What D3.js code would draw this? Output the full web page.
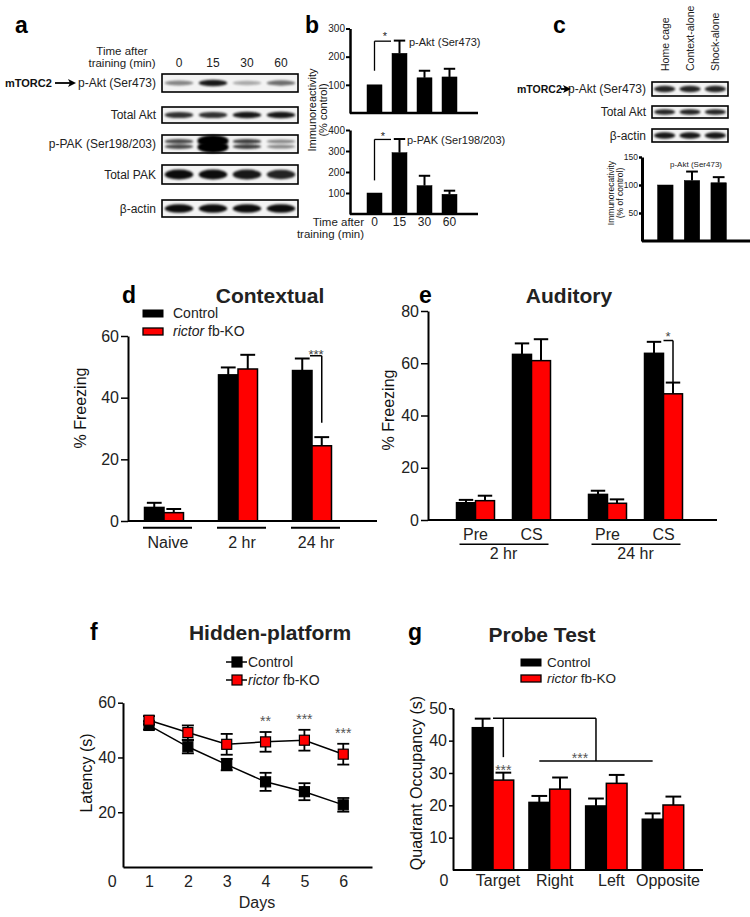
<!DOCTYPE html>
<html>
<head>
<meta charset="utf-8">
<script src="https://cdn.jsdelivr.net/npm/d3@7"></script>
<style>
  body { margin: 0; background: #fff; }
  svg { font-family: "Liberation Sans", Arial, sans-serif; }
</style>
</head>
<body>
<svg id="fig" width="750" height="917"></svg>
<script>
// ---- panel a : western blot band strength per lane (0..1)
const blotTimes = ["0", "15", "30", "60"];
const pAktBands = [0.45, 0.9, 0.3, 0.55];
const totalAktBands = [0.8, 0.8, 0.9, 0.9];
const pPakBands = [0.7, 1.0, 0.75, 0.45];
const totalPakBands = [0.95, 0.95, 0.9, 0.85];
const actinBandsA = [0.95, 0.95, 0.95, 0.95];

// ---- panel b
const bTimes = ["0", "15", "30", "60"];
const bAktMean = [100, 212, 125, 128];
const bAktErr = [0, 45, 25, 29];
const bPakMean = [100, 292, 135, 94];
const bPakErr = [0, 65, 47, 17];

// ---- panel c
const cGroups = ["Home cage", "Context-alone", "Shock-alone"];
const cAktBands = [0.85, 0.85, 0.85];
const cTotalAktBands = [0.85, 0.85, 0.85];
const cActinBands = [0.9, 0.9, 0.9];
const cMean = [100, 108, 104];
const cErr = [0, 16, 10];

// ---- panel d
const dGroups = ["Naive", "2 hr", "24 hr"];
const dControl = [4.4, 47.4, 48.8];
const dControlErr = [1.5, 2.4, 3.9];
const dKO = [2.7, 49.3, 24.4];
const dKOErr = [1.2, 4.6, 2.8];

// ---- panel e
const eTimes = ["2 hr", "24 hr"];
const ePhases = ["Pre", "CS"];
const eControl = [6.6, 63.4, 9.8, 63.8];
const eControlErr = [1.1, 4.2, 1.4, 4.4];
const eKO = [7.4, 61.0, 6.4, 48.3];
const eKOErr = [1.9, 8.2, 1.5, 4.3];

// ---- panel f
const fDays = [1, 2, 3, 4, 5, 6];
const fControl = [51.7, 43.9, 37.4, 31.1, 27.5, 22.7];
const fControlErr = [1.5, 2.4, 2.1, 3.3, 3.1, 2.5];
const fKO = [53.6, 49.1, 44.8, 45.7, 46.3, 41.2];
const fKOErr = [1.5, 2.6, 3.8, 3.6, 3.8, 3.8];
const fStars = ["", "", "", "**", "***", "***"];

// ---- panel g
const gQuads = ["Target", "Right", "Left", "Opposite"];
const gControl = [44.0, 20.9, 19.8, 15.7];
const gControlErr = [2.8, 2.0, 2.3, 1.8];
const gKO = [27.8, 25.0, 26.8, 20.1];
const gKOErr = [2.3, 3.6, 2.6, 2.6];

const RED = "#ff0000";
const svg = d3.select("#fig");

svg.append("defs").append("filter")
  .attr("id", "blur").attr("x", "-50%").attr("y", "-150%")
  .attr("width", "200%").attr("height", "400%")
  .append("feGaussianBlur").attr("stdDeviation", 1.3);

function txt(x, y, s, size, opt) {
  opt = opt || {};
  return svg.append("text")
    .attr("x", x).attr("y", y)
    .attr("font-size", size)
    .attr("font-weight", opt.bold ? "bold" : null)
    .attr("text-anchor", opt.anchor || "start")
    .attr("fill", opt.fill || "#111")
    .text(s);
}

function vtxt(x, y, s, size, anchor) {
  return svg.append("text")
    .attr("transform", "translate(" + x + "," + y + ") rotate(-90)")
    .attr("font-size", size)
    .attr("text-anchor", anchor || "middle")
    .attr("fill", "#111")
    .text(s);
}

function hline(x1, x2, y, w) {
  svg.append("line").attr("x1", x1).attr("x2", x2).attr("y1", y).attr("y2", y)
    .attr("stroke", "#000").attr("stroke-width", w || 2);
}
function vline(x, y1, y2, w) {
  svg.append("line").attr("x1", x).attr("x2", x).attr("y1", y1).attr("y2", y2)
    .attr("stroke", "#000").attr("stroke-width", w || 2);
}

function yAxis(x, scale, ticks, size, tick, font, pad) {
  const g = svg.append("g")
    .attr("transform", "translate(" + x + ",0)")
    .call(d3.axisLeft(scale).tickValues(ticks).tickSize(tick)
      .tickPadding(pad == null ? 2 : pad).tickSizeOuter(0));
  g.select(".domain").attr("stroke-width", size);
  g.selectAll(".tick line").attr("stroke-width", Math.max(1.2, size - 0.5));
  g.selectAll("text").attr("font-size", font).attr("fill", "#222")
    .attr("font-family", "Liberation Sans, Arial, sans-serif");
  return g;
}

// bar with upper error bar
function bar(x, w, v, e, fill, y, sw) {
  svg.append("rect").attr("x", x).attr("y", y(v)).attr("width", w)
    .attr("height", y(0) - y(v)).attr("fill", fill)
    .attr("stroke", "#000").attr("stroke-width", sw || 1.5);
  if (e > 0) {
    const cx = x + w / 2;
    vline(cx, y(v), y(v + e), 2);
    hline(cx - w * 0.38, cx + w * 0.38, y(v + e), 2);
  }
}

function blot(lanes, rows, labelX) {
  rows.forEach(r => {
    svg.append("rect").attr("x", lanes.range()[0]).attr("y", r.y)
      .attr("width", lanes.range()[1] - lanes.range()[0]).attr("height", r.h)
      .attr("fill", "#f3f3f3").attr("stroke", "#000").attr("stroke-width", 1.6);
    const cy = r.y + r.h / 2;
    r.bands.forEach((b, i) => {
      const cx = lanes(lanes.domain()[i]) + lanes.bandwidth() / 2;
      const strong = r.doublet && b > 0.95;
      const offs = r.doublet ? [-2.6, 2.6] : [0];
      offs.forEach(o => {
        svg.append("ellipse")
          .attr("cx", cx).attr("cy", cy + o * (strong ? 1.2 : 1))
          .attr("rx", lanes.bandwidth() * (strong ? 0.46 : 0.42))
          .attr("ry", r.ry * (0.55 + b * 0.6) * (strong ? 2.1 : 1))
          .attr("fill", "#000").attr("opacity", b)
          .attr("filter", "url(#blur)");
      });
    });
    txt(labelX, cy + 4.3, r.name, 12, { anchor: "end", fill: "#222" });
  });
}

function arrow(x1, x2, y) {
  hline(x1, x2 - 5, y, 1.8);
  svg.append("path")
    .attr("d", "M" + x2 + "," + y + " L" + (x2 - 8) + "," + (y - 4) + " L" + (x2 - 6) + "," + y + " L" + (x2 - 8) + "," + (y + 4) + "Z")
    .attr("fill", "#000");
}

/* ================= panel a ================= */
txt(15, 33, "a", 23, { bold: true, fill: "#000" });
const aLanes = d3.scaleBand().domain(blotTimes).range([162, 298]);
txt(122, 55, "Time after", 11.5, { anchor: "middle", fill: "#222" });
txt(122, 67, "training (min)", 11.5, { anchor: "middle", fill: "#222" });
blotTimes.forEach(t => txt(aLanes(t) + aLanes.bandwidth() / 2, 67, t, 12, { anchor: "middle", fill: "#222" }));
blot(aLanes, [
  { name: "p-Akt (Ser473)", y: 74, h: 18, bands: pAktBands, ry: 3 },
  { name: "Total Akt", y: 107, h: 16, bands: totalAktBands, ry: 3 },
  { name: "p-PAK (Ser198/203)", y: 135, h: 18, bands: pPakBands, ry: 2.4, doublet: true },
  { name: "Total PAK", y: 165, h: 19, bands: totalPakBands, ry: 4.5 },
  { name: "β-actin", y: 200, h: 17, bands: actinBandsA, ry: 3.8 }
], 156);
txt(5, 87, "mTORC2", 11, { bold: true, fill: "#111" });
arrow(55, 76, 83);

/* ================= panel b ================= */
txt(305, 33, "b", 23, { bold: true, fill: "#000" });
const bx = d3.scaleBand().domain(bTimes).range([362, 462]).paddingInner(0.4).paddingOuter(0.2);
const byTop = d3.scaleLinear().domain([0, 300]).range([113, 28.5]);
const byBot = d3.scaleLinear().domain([0, 400]).range([214, 130]);
bTimes.forEach((t, i) => {
  bar(bx(t), bx.bandwidth(), bAktMean[i], bAktErr[i], "#000", byTop, 0.5);
  bar(bx(t), bx.bandwidth(), bPakMean[i], bPakErr[i], "#000", byBot, 0.5);
});
yAxis(350, byTop, [100, 200, 300], 2.5, 4, 10, 1);
yAxis(350, byBot, [100, 200, 300, 400], 2.5, 4, 10, 1);
hline(350, 478, byTop(0), 2.5);
hline(350, 478, byBot(0), 2.5);
// significance
{
  const x0 = bx("0") + bx.bandwidth() / 2;
  vline(x0, byTop(150), byTop(255), 1.3);
  hline(x0, bx("15") - 1, byTop(255), 1.3);
  txt(385, 40, "*", 11, { anchor: "middle", fill: "#222" });
  txt(409, 46, "p-Akt (Ser473)", 11, { fill: "#222" });
  vline(x0, byBot(160), byBot(355), 1.3);
  hline(x0, bx("15") - 1, byBot(355), 1.3);
  txt(383, 140, "*", 11, { anchor: "middle", fill: "#222" });
  txt(407, 144, "p-PAK (Ser198/203)", 11, { fill: "#222" });
}
bTimes.forEach(t => txt(bx(t) + bx.bandwidth() / 2, 226, t, 12, { anchor: "middle", fill: "#222" }));
txt(364, 226, "Time after", 11.5, { anchor: "end", fill: "#222" });
txt(364, 237.5, "training (min)", 11.5, { anchor: "end", fill: "#222" });
vtxt(316, 110, "Immunoreactivity", 11);
vtxt(327, 110, "(% control)", 11);

/* ================= panel c ================= */
txt(553, 33, "c", 23, { bold: true, fill: "#000" });
const cLanes = d3.scaleBand().domain(cGroups).range([652, 728]);
cGroups.forEach(gname => {
  svg.append("text")
    .attr("transform", "translate(" + (cLanes(gname) + cLanes.bandwidth() / 2 + 4) + ",71) rotate(-90)")
    .attr("font-size", 10.5).attr("fill", "#222").text(gname);
});
blot(cLanes, [
  { name: "p-Akt (Ser473)", y: 82, h: 14, bands: cAktBands, ry: 3 },
  { name: "Total Akt", y: 106, h: 12, bands: cTotalAktBands, ry: 2.6 },
  { name: "β-actin", y: 129, h: 13, bands: cActinBands, ry: 3 }
], 646);
txt(517, 93, "mTORC2", 10.5, { bold: true, fill: "#111" });
arrow(561, 571, 89);
const cx = d3.scaleBand().domain(cGroups).range([652, 732]).paddingInner(0.42).paddingOuter(0.21);
const cy = d3.scaleLinear().domain([0, 150]).range([241, 157]);
cGroups.forEach((gname, i) => bar(cx(gname), cx.bandwidth(), cMean[i], cErr[i], "#000", cy, 0.5));
yAxis(642, cy, [50, 100, 150], 3, 3, 8.5, 1);
hline(642, 750, cy(0), 3);
txt(670, 167, "p-Akt (Ser473)", 8, { fill: "#222" });
vtxt(614, 193, "Immunorecativity", 8.5);
vtxt(623, 193, "(% of control)", 8.5);

/* ================= legends ================= */
function barLegend(x, y1, y2, tx, fs) {
  svg.append("rect").attr("x", x).attr("y", y1).attr("width", 20).attr("height", 7)
    .attr("fill", "#000").attr("stroke", "#000");
  svg.append("rect").attr("x", x).attr("y", y2).attr("width", 20).attr("height", 7)
    .attr("fill", RED).attr("stroke", "#000").attr("stroke-width", 1.3);
  txt(tx, y1 + 8, "Control", fs, { fill: "#222" });
  const t = txt(tx, y2 + 8, "", fs, { fill: "#222" });
  t.append("tspan").attr("font-style", "italic").text("rictor");
  t.append("tspan").text(" fb-KO");
}

/* ================= panel d ================= */
txt(122, 303, "d", 23, { bold: true, fill: "#000" });
txt(270, 303, "Contextual", 21, { bold: true, anchor: "middle", fill: "#222" });
barLegend(143, 310, 328, 173, 14);
const dx = d3.scalePoint().domain(dGroups).range([164, 312]);
const dy = d3.scaleLinear().domain([0, 60]).range([521, 336]);
const dbw = 19.5;
dGroups.forEach((gname, i) => {
  bar(dx(gname) - dbw, dbw, dControl[i], dControlErr[i], "#000", dy);
  bar(dx(gname), dbw, dKO[i], dKOErr[i], RED, dy);
  hline(dx(gname) - 21, dx(gname) + 28, 527.7, 2);
  txt(dx(gname) + 4, 548, gname, 16, { anchor: "middle", fill: "#222" });
});
yAxis(128, dy, [0, 20, 40, 60], 2, 7, 16);
hline(128, 377, dy(0), 2);
{
  const xr = dx("24 hr") + dbw / 2;
  hline(dx("24 hr") - 2, xr, dy(53.6), 1.5);
  vline(xr, dy(53.6), dy(31.9), 1.5);
  txt(316, 359, "***", 13, { anchor: "middle", fill: "#444" });
}
vtxt(86, 408, "% Freezing", 16);

/* ================= panel e ================= */
txt(419, 303, "e", 23, { bold: true, fill: "#000" });
txt(569, 303, "Auditory", 21, { bold: true, anchor: "middle", fill: "#222" });
const eOuter = d3.scalePoint().domain(eTimes).range([503.5, 635.5]);
const eInner = d3.scalePoint().domain(ePhases).range([-28, 28]);
const ey = d3.scaleLinear().domain([0, 80]).range([520, 311]);
const ebw = 19;
eTimes.forEach((t, ti) => {
  ePhases.forEach((p, pi) => {
    const k = ti * 2 + pi;
    const c = eOuter(t) + eInner(p);
    bar(c - ebw, ebw, eControl[k], eControlErr[k], "#000", ey);
    bar(c, ebw, eKO[k], eKOErr[k], RED, ey);
    txt(c, 540, p, 16, { anchor: "middle", fill: "#222" });
  });
  hline(eOuter(t) - 44, eOuter(t) + 45, 544.3, 1.5);
  txt(eOuter(t), 559, t, 16, { anchor: "middle", fill: "#222" });
});
yAxis(428, ey, [0, 20, 40, 60, 80], 2, 7, 16);
hline(428, 717, ey(0), 2);
{
  const c = eOuter("24 hr") + eInner("CS");
  hline(c, c + ebw / 2, ey(68.7), 1.5);
  vline(c + ebw / 2, ey(68.7), ey(52.6), 1.5);
  txt(668, 341, "*", 13, { anchor: "middle", fill: "#444" });
}
vtxt(394, 410, "% Freezing", 16);

/* ================= panel f ================= */
txt(90, 640, "f", 23, { bold: true, fill: "#000" });
txt(270, 640, "Hidden-platform", 21, { bold: true, anchor: "middle", fill: "#222" });
const fx = d3.scaleLinear().domain([0.33, 6.74]).range([123, 372]);
const fy = d3.scaleLinear().domain([0, 60]).range([867, 702.7]);
function series(vals, errs, fill) {
  const line = d3.line().x((d, i) => fx(fDays[i])).y(d => fy(d));
  svg.append("path").attr("d", line(vals)).attr("fill", "none")
    .attr("stroke", "#000").attr("stroke-width", 1.5);
  vals.forEach((v, i) => {
    const x = fx(fDays[i]);
    vline(x, fy(v - errs[i]), fy(v + errs[i]), 1.8);
    hline(x - 6, x + 6, fy(v + errs[i]), 1.8);
    hline(x - 6, x + 6, fy(v - errs[i]), 1.8);
  });
  vals.forEach((v, i) => {
    svg.append("rect").attr("x", fx(fDays[i]) - 5).attr("y", fy(v) - 5)
      .attr("width", 10).attr("height", 10).attr("fill", fill)
      .attr("stroke", "#000").attr("stroke-width", 1.2);
  });
}
series(fControl, fControlErr, "#000");
series(fKO, fKOErr, RED);
fStars.forEach((s, i) => {
  if (!s) return;
  const top = Math.max(fKO[i] + fKOErr[i], fControl[i] + fControlErr[i]);
  txt(fx(fDays[i]), fy(top) - 6, s, 14, { anchor: "middle", fill: "#555" });
});
yAxis(123, fy, [20, 40, 60], 2, 5, 16);
const fxAxis = svg.append("g").attr("transform", "translate(0," + fy(0) + ")")
  .call(d3.axisBottom(fx).tickValues(fDays).tickFormat(d3.format("d")).tickSize(0).tickPadding(9));
fxAxis.select(".domain").attr("stroke-width", 2);
fxAxis.selectAll("text").attr("font-size", 16).attr("fill", "#222")
  .attr("font-family", "Liberation Sans, Arial, sans-serif");
txt(fx(0) + 2, 887, "0", 16, { anchor: "middle", fill: "#222" });
txt(257, 908, "Days", 16, { anchor: "middle", fill: "#222" });
vtxt(92, 773, "Latency (s)", 16);
// legend
[["Control", "#000", 662], ["rictor", RED, 680]].forEach(([name, fill, y]) => {
  hline(226, 247, y, 1.5);
  svg.append("rect").attr("x", 232).attr("y", y - 5).attr("width", 10).attr("height", 10)
    .attr("fill", fill).attr("stroke", "#000").attr("stroke-width", 1.2);
});
txt(248, 667, "Control", 14, { fill: "#222" });
{
  const t = txt(248, 685, "", 14, { fill: "#222" });
  t.append("tspan").attr("font-style", "italic").text("rictor");
  t.append("tspan").text(" fb-KO");
}

/* ================= panel g ================= */
txt(408, 640, "g", 23, { bold: true, fill: "#000" });
txt(542, 642, "Probe Test", 21, { bold: true, anchor: "middle", fill: "#222" });
barLegend(521, 659, 675, 547, 13.5);
const gx = d3.scalePoint().domain(gQuads).range([493, 663]);
const gy = d3.scaleLinear().domain([0, 50]).range([870, 708.3]);
const gbw = 20.7;
gQuads.forEach((q, i) => {
  bar(gx(q) - gbw, gbw, gControl[i], gControlErr[i], "#000", gy);
  bar(gx(q), gbw, gKO[i], gKOErr[i], RED, gy);
  txt(gx(q) + 5, 886, q, 16, { anchor: "middle", fill: "#222" });
});
yAxis(453, gy, [10, 20, 30, 40, 50], 2, 4, 16);
hline(453, 703, gy(0), 2);
txt(444, 886, "0", 16, { anchor: "middle", fill: "#222" });
{
  const xa = gx("Target") + gbw / 2;
  const xm = (gx("Right") + gx("Opposite")) / 2 - gbw / 2;
  hline(gx("Target"), xm, gy(46.9), 1.5);
  vline(xa, gy(46.9), gy(34.9), 1.5);
  vline(xm, gy(46.9), gy(33.7), 1.5);
  hline(gx("Right") - gbw / 2, gx("Opposite") - gbw / 2, gy(33.7), 1.5);
  txt(xm - 16, 763, "***", 14, { anchor: "middle", fill: "#555" });
  txt(xa, 775, "***", 14, { anchor: "middle", fill: "#555" });
}
vtxt(422, 783, "Quadrant Occupancy (s)", 16);
</script>
</body>
</html>
